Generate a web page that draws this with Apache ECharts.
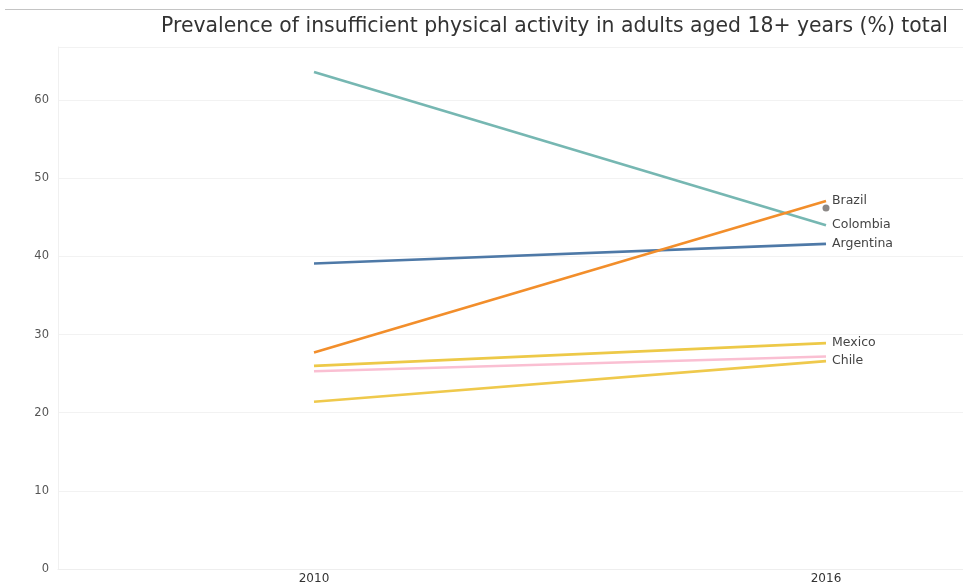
<!DOCTYPE html>
<html>
<head>
<meta charset="utf-8">
<style>
  html, body { margin: 0; padding: 0; background: #fff; }
  #chart { width: 963px; height: 586px; }
</style>
<script src="https://cdn.jsdelivr.net/npm/echarts@6/dist/echarts.min.js"></script>
</head>
<body>
<div id="chart"></div>
<script>
// años del eje x
const years = ['2010', '2016'];

// valores por país (%)
const colombia = [63.6, 44.0];
const brazil = [27.7, 47.1];
const argentina = [39.1, 41.6];
const mexico = [26.0, 28.9];
const pink = [25.3, 27.2];
const chile = [21.4, 26.6];
const lonePoint = [null, 46.2];

const yTicks = [0, 10, 20, 30, 40, 50, 60];

const contenedor = document.getElementById('chart');
const miGrafico = echarts.init(contenedor);

function linea(nombre, datos, color, etiqueta) {
  return {
    name: nombre,
    type: 'line',
    data: datos,
    symbol: 'none',
    lineStyle: { color: color, width: 2.6 },
    itemStyle: { color: color },
    endLabel: {
      show: etiqueta,
      formatter: nombre,
      color: '#444',
      fontSize: 12.5,
      fontFamily: 'DejaVu Sans',
      distance: 6
    },
    z: 2
  };
}

const opciones = {
  animation: false,
  title: {
    text: 'Prevalence of insufficient physical activity in adults aged 18+ years (%) total',
    right: 10,
    top: 12,
    textStyle: {
      fontFamily: 'DejaVu Sans',
      fontWeight: 'normal',
      fontSize: 20.4,
      color: '#333'
    }
  },
  graphic: [{
    type: 'line',
    shape: { x1: 5, y1: 9.5, x2: 963, y2: 9.5 },
    style: { stroke: '#c4c4c4', lineWidth: 1 }
  }],
  grid: { left: 58, top: 47, width: 1024, height: 522, outerBoundsMode: 'none', containLabel: false },
  xAxis: {
    type: 'category',
    data: years,
    boundaryGap: true,
    axisLine: { show: true, lineStyle: { color: '#eeeeee' } },
    axisTick: { show: false },
    axisLabel: { color: '#333', fontSize: 12, fontFamily: 'DejaVu Sans', margin: 4 }
  },
  yAxis: {
    type: 'value',
    min: 0,
    max: 66.8,
    interval: 10,
    axisLine: { show: true, lineStyle: { color: '#f0f0f0' } },
    axisTick: { show: false },
    splitLine: { lineStyle: { color: '#f2f2f2' } },
    axisLabel: {
      color: '#555',
      fontSize: 11.5,
      fontFamily: 'DejaVu Sans',
      margin: 9,
      showMaxLabel: false,
      formatter: v => (yTicks.includes(v) ? String(v) : '')
    }
  },
  series: [
    linea('Colombia', colombia, '#76b7b2', true),
    linea('Argentina', argentina, '#4e79a7', true),
    linea('Mexico', mexico, '#edc948', true),
    linea('', pink, '#fabfd2', false),
    linea('Chile', chile, '#efc94c', true),
    linea('Brazil', brazil, '#f28e2b', true),
    {
      name: 'point',
      type: 'scatter',
      data: lonePoint,
      symbolSize: 7,
      itemStyle: { color: '#6f6a68' },
      z: 3
    }
  ]
};

miGrafico.setOption(opciones);
</script>
</body>
</html>
